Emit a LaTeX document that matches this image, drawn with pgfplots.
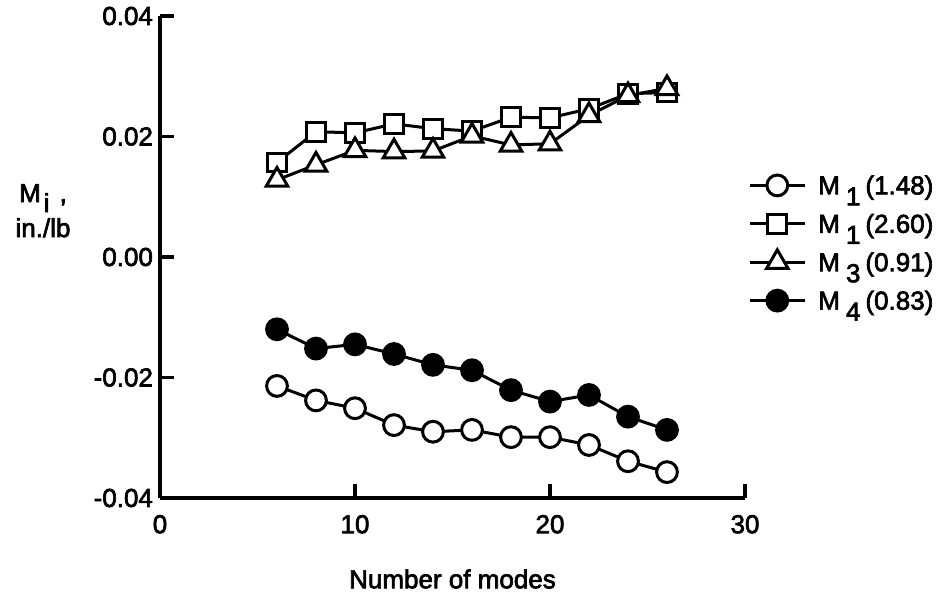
\documentclass[border=0pt]{standalone}
\usepackage{pgfplots}
\pgfplotsset{compat=1.18}
\usepackage{fontspec}
\setmainfont{Liberation Sans}[FakeBold=2.5]

\begin{document}
\begin{tikzpicture}[font=\fontsize{13}{15}\selectfont]
\begin{axis}[
  name=ax,
  scale only axis,
  width=292.5pt, height=241pt,
  xmin=0, xmax=30, ymin=-0.04, ymax=0.04,
  axis x line*=bottom, axis y line*=left,
  axis line style={line width=1.8pt},
  xtick={0,10,20,30},
  ytick={-0.04,-0.02,0,0.02,0.04},
  scaled y ticks=false,
  yticklabel style={/pgf/number format/.cd, fixed, fixed zerofill, precision=2},
  /pgf/number format/assume math mode=true,
  tick label style={font=\fontsize{13}{15}\selectfont},
  tick align=inside,
  major tick length=7pt,
  tick style={line width=1.8pt, black},
  xticklabel style={yshift=-5pt},
  clip=false,
  xlabel={Number of modes},
  xlabel style={at={(axis description cs:0.5,-0.168)}, anchor=center, font=\fontsize{13}{15}\selectfont},
  ylabel={M\kern1.5pt\raisebox{-5pt}{i}\kern5pt,\\[2.5pt]in./lb},
  ylabel style={rotate=-90, at={(axis description cs:-0.2,0.596)}, anchor=center, align=center, font=\fontsize{13}{15}\selectfont},
  legend style={draw=none, fill=none, inner sep=0pt, row sep=5.2pt,
    at={(axis description cs:1.005,0.529)}, anchor=west,
    nodes={inner sep=0pt, text height=11.5pt, text depth=2.5pt},
    font=\fontsize{13}{15}\selectfont},
  legend cell align=left,
  legend image code/.code={
    \draw[#1, mark repeat=2, mark phase=2] plot coordinates {(0pt,0pt) (13.75pt,0pt) (27.5pt,0pt)};
    \path (33.5pt,0pt);
  },
]
\addplot[black, line width=1.5pt, mark=*, mark size=5.2pt, mark options={fill=white, solid}] coordinates {
(6,-0.0214) (8,-0.0238) (10,-0.0251) (12,-0.0279) (14,-0.0290) (16,-0.0287)
(18,-0.0299) (20,-0.0299) (22,-0.0312) (24,-0.0339) (26,-0.0357)};
\addlegendentry{M\kern3pt\raisebox{-5.5pt}{1}\kern2.5pt(1.48)}
\addplot[black, line width=1.5pt, mark=square*, mark size=4.7pt, mark options={fill=white, solid}] coordinates {
(6,0.0157) (8,0.0208) (10,0.0206) (12,0.0221) (14,0.0213) (16,0.0209)
(18,0.0232) (20,0.0231) (22,0.0246) (24,0.0271) (26,0.0273)};
\addlegendentry{M\kern3pt\raisebox{-5.5pt}{1}\kern2.5pt(2.60)}
\addplot[black, line width=1.5pt, mark=triangle*, mark size=6.2pt, mark options={fill=white, solid}] coordinates {
(6,0.0128) (8,0.0153) (10,0.0177) (12,0.0175) (14,0.0176) (16,0.0201)
(18,0.0186) (20,0.0188) (22,0.0235) (24,0.0268) (26,0.0280)};
\addlegendentry{M\kern3pt\raisebox{-5.5pt}{3}\kern2.5pt(0.91)}
\addplot[black, line width=1.5pt, mark=*, mark size=5.2pt, mark options={fill=black, solid}] coordinates {
(6,-0.0120) (8,-0.0152) (10,-0.0145) (12,-0.0161) (14,-0.0179) (16,-0.0188)
(18,-0.0221) (20,-0.0240) (22,-0.0229) (24,-0.0265) (26,-0.0287)};
\addlegendentry{M\kern3pt\raisebox{-5.5pt}{4}\kern2.5pt(0.83)}
\end{axis}
\pgfresetboundingbox
\path (ax.south west) ++(-80pt,-47pt) coordinate (bbA);
\path (ax.north east) ++(98.5pt,8pt) coordinate (bbB);
\path[use as bounding box] (bbA) rectangle (bbB);
\end{tikzpicture}
\end{document}
